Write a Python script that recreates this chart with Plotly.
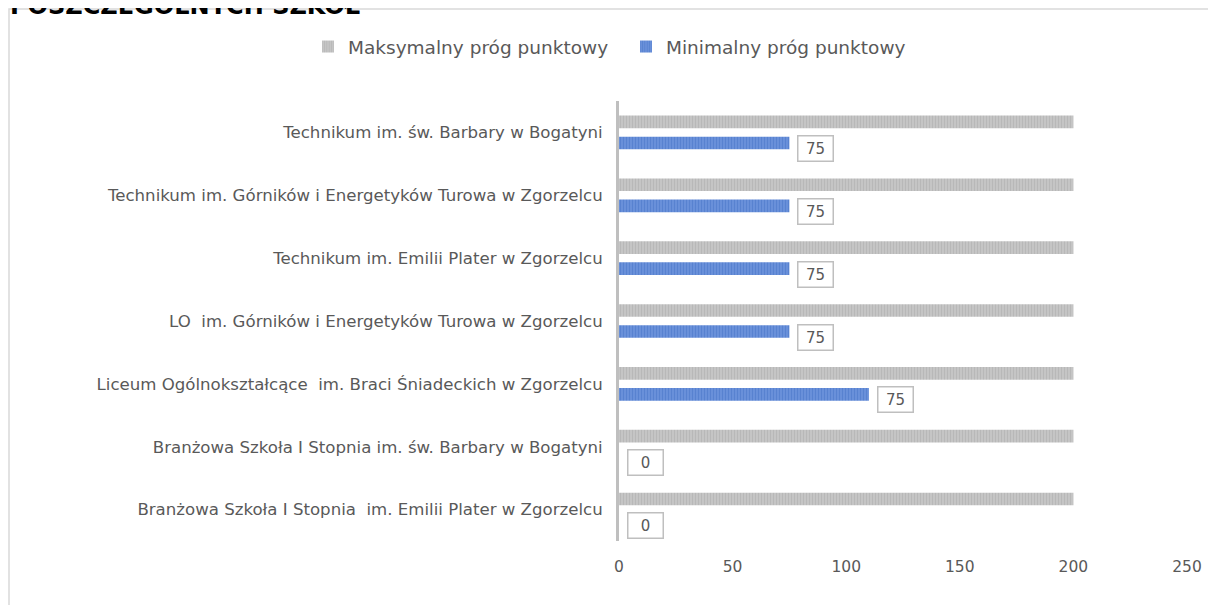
import plotly.graph_objects as go

categories = [
    "Technikum im. św. Barbary w Bogatyni",
    "Technikum im. Górników i Energetyków Turowa w Zgorzelcu",
    "Technikum im. Emilii Plater w Zgorzelcu",
    "LO  im. Górników i Energetyków Turowa w Zgorzelcu",
    "Liceum Ogólnokształcące  im. Braci Śniadeckich w Zgorzelcu",
    "Branżowa Szkoła I Stopnia im. św. Barbary w Bogatyni",
    "Branżowa Szkoła I Stopnia  im. Emilii Plater w Zgorzelcu",
]
max_values = [200, 200, 200, 200, 200, 200, 200]
min_values = [75, 75, 75, 75, 110, 0, 0]
min_labels = ["75", "75", "75", "75", "75", "0", "0"]
x_ticks = [0, 50, 100, 150, 200, 250]

OFF = 8
W, H = 1216 - OFF, 605 - OFF
ML, MR, MT, MB = 619 - OFF, 29, 101 - OFF, 64
PW, PH = W - ML - MR, H - MT - MB

fig = go.Figure()
fig.add_trace(go.Bar(
    y=categories, x=min_values, orientation="h", name="Minimalny próg punktowy",
    legend="legend2",
    marker=dict(color="#7096dc", line=dict(width=0),
                pattern=dict(shape="|", fgcolor="#3e6bc0", bgcolor="#7399e0",
                             size=3, solidity=0.6, fillmode="overlay")),
    hoverinfo="skip",
))
fig.add_trace(go.Bar(
    y=categories, x=max_values, orientation="h", name="Maksymalny próg punktowy",
    legend="legend",
    marker=dict(color="#c8c8c8", line=dict(width=0),
                pattern=dict(shape="|", fgcolor="#a3a3a3", bgcolor="#cdcdcd",
                             size=3, solidity=0.6, fillmode="overlay")),
    hoverinfo="skip",
))

annotations = []
for cat, v, lab in zip(categories, min_values, min_labels):
    annotations.append(dict(
        x=v, y=cat, xref="x", yref="y", text=lab, showarrow=False,
        xanchor="left", yanchor="middle", xshift=8, yshift=-16,
        font=dict(family="DejaVu Sans", size=15, color="#595959"),
        bordercolor="#bfbfbf", borderwidth=1.5, borderpad=3, bgcolor="white",
        width=28,
    ))

annotations.append(dict(
    x=(0 - ML) / PW, y=1 + (MT - 14) / PH, xref="paper", yref="paper",
    xanchor="left", yanchor="bottom", showarrow=False,
    text="<b>POSZCZEGÓLNYCH SZKÓŁ</b>",
    font=dict(family="DejaVu Sans", size=24, color="#000000"),
))

legend_font = dict(family="DejaVu Sans", size=18.5, color="#595959")
fig.update_layout(
    width=W, height=H,
    margin=dict(l=ML, r=MR, t=MT, b=MB),
    paper_bgcolor="white", plot_bgcolor="white",
    barmode="group", bargap=0.33, bargroupgap=0.4,
    showlegend=True,
    legend=dict(orientation="h", x=(308 - OFF) / W, xref="container", xanchor="left",
                y=1 - (47 - OFF) / H, yref="container", yanchor="middle",
                font=legend_font, itemwidth=30, bgcolor="rgba(0,0,0,0)"),
    legend2=dict(orientation="h", x=(626 - OFF) / W, xref="container", xanchor="left",
                 y=1 - (47 - OFF) / H, yref="container", yanchor="middle",
                 font=legend_font, itemwidth=30, bgcolor="rgba(0,0,0,0)"),
    xaxis=dict(range=[0, 250], tickvals=x_ticks, showgrid=False, zeroline=False,
               showline=False, ticks="", ticklabelstandoff=14,
               tickfont=dict(family="DejaVu Sans", size=15.5, color="#595959")),
    yaxis=dict(categoryorder="array", categoryarray=categories[::-1],
               showgrid=False, zeroline=False, showline=True, linecolor="#bfbfbf",
               linewidth=3, ticks="", ticklabelstandoff=10,
               tickfont=dict(family="DejaVu Sans", size=16.6, color="#595959")),
    annotations=annotations,
    shapes=[dict(type="rect", xref="paper", yref="paper",
                 x0=(9 - OFF - ML) / PW, x1=(W + 20 - ML) / PW,
                 y0=1 - (H + 20 - MT) / PH, y1=1 + (MT - 1) / PH,
                 line=dict(color="#d9d9d9", width=1.5), layer="below")],
)

fig.write_html("out.html")
